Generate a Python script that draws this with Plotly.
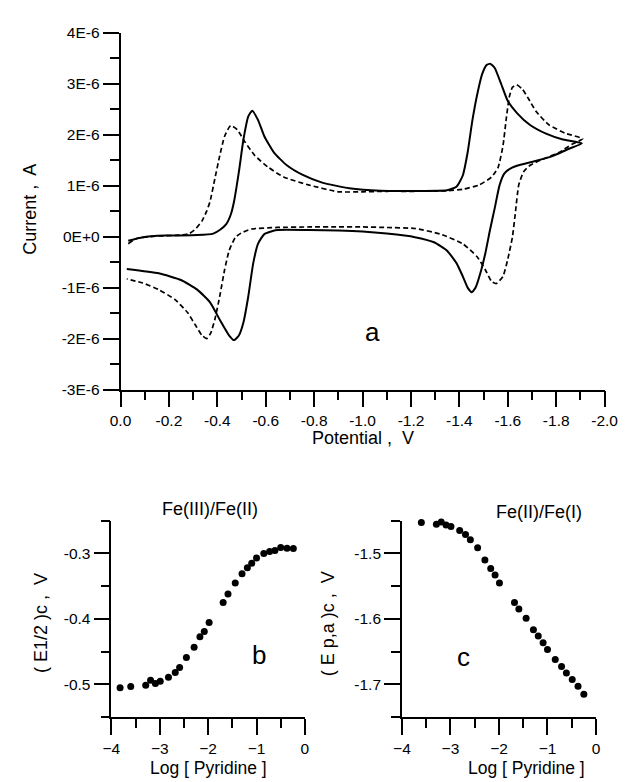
import plotly.graph_objects as go

# ---------------- Panel a: cyclic voltammograms (current in units of 1E-6 A) ----------------
solid_E = [-0.032, -0.092, -0.185, -0.317, -0.383, -0.41, -0.436, -0.456, -0.469, -0.489, -0.508,
           -0.528, -0.544, -0.568, -0.594, -0.634, -0.687, -0.753, -0.833, -0.945, -1.074, -1.216,
           -1.348, -1.388, -1.414, -1.434, -1.454, -1.474, -1.494, -1.513, -1.528, -1.546, -1.573,
           -1.599, -1.639, -1.692, -1.758, -1.824, -1.906,
           -1.85, -1.784, -1.718, -1.652, -1.612, -1.586, -1.566, -1.546, -1.526, -1.507, -1.487,
           -1.467, -1.451, -1.434, -1.414, -1.388, -1.348, -1.295, -1.216, -1.1, -1.0, -0.9, -0.78,
           -0.647, -0.594, -0.568, -0.548, -0.528, -0.508, -0.489, -0.469, -0.449, -0.409, -0.37,
           -0.317, -0.25, -0.158, -0.026]
solid_I = [-0.08, -0.01, 0.02, 0.03, 0.06, 0.13, 0.24, 0.44, 0.69, 1.27, 1.91,
           2.36, 2.47, 2.29, 1.97, 1.65, 1.40, 1.21, 1.06, 0.95, 0.90, 0.896,
           0.91, 0.98, 1.20, 1.65, 2.29, 2.80, 3.19, 3.37, 3.39, 3.31, 2.99,
           2.67, 2.42, 2.19, 2.02, 1.91, 1.83,
           1.72, 1.58, 1.49, 1.41, 1.34, 1.24, 1.01, 0.56, 0.12, -0.33, -0.71,
           -1.00, -1.09, -1.00, -0.78, -0.52, -0.27, -0.11, -0.01, 0.06, 0.10, 0.12, 0.13,
           0.13, 0.05, -0.14, -0.53, -1.17, -1.68, -1.94, -2.03, -1.94, -1.62, -1.29,
           -1.04, -0.85, -0.72, -0.635]

dashed_E = [-0.032, -0.065, -0.145, -0.25, -0.284, -0.31, -0.337, -0.356, -0.37, -0.39, -0.41,
            -0.43, -0.455, -0.482, -0.515, -0.555, -0.608, -0.674, -0.78, -0.9, -1.0, -1.1,
            -1.216, -1.348, -1.414, -1.48, -1.533, -1.56, -1.58, -1.593, -1.606, -1.619, -1.636,
            -1.659, -1.685, -1.718, -1.771, -1.837, -1.909,
            -1.864, -1.811, -1.745, -1.692, -1.665, -1.645, -1.632, -1.619, -1.599, -1.58, -1.553,
            -1.533, -1.507, -1.474, -1.414, -1.322, -1.216, -1.1, -1.0, -0.9, -0.78, -0.647,
            -0.542, -0.502, -0.475, -0.449, -0.43, -0.41, -0.39, -0.372, -0.356, -0.337, -0.31,
            -0.277, -0.224, -0.158, -0.092, -0.026]
dashed_I = [-0.14, -0.04, 0.01, 0.03, 0.06, 0.15, 0.31, 0.50, 0.69, 1.14, 1.59,
            1.97, 2.18, 2.10, 1.85, 1.59, 1.37, 1.17, 1.01, 0.88, 0.88, 0.89,
            0.89, 0.90, 0.93, 1.01, 1.17, 1.36, 1.78, 2.29, 2.74, 2.93, 2.98,
            2.90, 2.71, 2.45, 2.19, 2.03, 1.92,
            1.81, 1.65, 1.52, 1.40, 1.27, 1.01, 0.50, -0.01, -0.46, -0.78, -0.92,
            -0.88, -0.65, -0.40, -0.14, 0.05, 0.16, 0.18, 0.19, 0.19, 0.19, 0.18,
            0.15, 0.08, -0.01, -0.27, -0.65, -1.17, -1.62, -1.90, -2.00, -1.94, -1.74,
            -1.49, -1.23, -1.04, -0.91, -0.83]

a_ytick_vals = [-3e-6, -2e-6, -1e-6, 0, 1e-6, 2e-6, 3e-6, 4e-6]
a_ytick_text = ["-3E-6", "-2E-6", "-1E-6", "0E+0", "1E-6", "2E-6", "3E-6", "4E-6"]
a_xtick_vals = [0.0, -0.2, -0.4, -0.6, -0.8, -1.0, -1.2, -1.4, -1.6, -1.8, -2.0]
a_xtick_text = ["0.0", "-0.2", "-0.4", "-0.6", "-0.8", "-1.0", "-1.2", "-1.4", "-1.6", "-1.8", "-2.0"]

# ---------------- Panel b: Fe(III)/Fe(II) ----------------
b_logpy = [-3.82, -3.60, -3.29, -3.19, -3.09, -2.99, -2.82, -2.68, -2.59, -2.45, -2.29, -2.17, -2.08,
           -1.98, -1.69, -1.59, -1.44, -1.30, -1.19, -1.10, -1.00, -0.85, -0.73, -0.62, -0.50,
           -0.37, -0.24]
b_E12 = [-0.505, -0.503, -0.501, -0.4935, -0.4985, -0.495, -0.489, -0.4816, -0.474, -0.459, -0.443,
         -0.427, -0.419, -0.4055, -0.375, -0.362, -0.345, -0.331, -0.322, -0.315, -0.307, -0.300,
         -0.297, -0.2955, -0.291, -0.292, -0.2925]

# ---------------- Panel c: Fe(II)/Fe(I) ----------------
c_logpy = [-3.81, -3.60, -3.29, -3.19, -3.09, -2.99, -2.81, -2.69, -2.59, -2.44, -2.29, -2.17, -2.08,
           -1.99, -1.68, -1.59, -1.44, -1.29, -1.19, -1.09, -1.00, -0.84, -0.71, -0.61, -0.49,
           -0.37, -0.25]
c_Epa = [-1.449, -1.453, -1.4555, -1.452, -1.4565, -1.459, -1.465, -1.471, -1.479, -1.4915, -1.510,
         -1.523, -1.533, -1.545, -1.575, -1.585, -1.599, -1.6165, -1.626, -1.6365, -1.6465, -1.662,
         -1.6725, -1.6825, -1.6925, -1.7025, -1.715]

FONT = "Liberation Sans, Arial, sans-serif"

fig = go.Figure()
fig.add_trace(go.Scatter(x=solid_E, y=[v * 1e-6 for v in solid_I], mode="lines",
                         line=dict(color="black", width=2, shape="spline", smoothing=0.5),
                         xaxis="x", yaxis="y", showlegend=False))
fig.add_trace(go.Scatter(x=dashed_E, y=[v * 1e-6 for v in dashed_I], mode="lines",
                         line=dict(color="black", width=1.7, dash="5px,3px", shape="spline", smoothing=0.5),
                         xaxis="x", yaxis="y", showlegend=False))
fig.add_trace(go.Scatter(x=b_logpy, y=b_E12, mode="markers",
                         marker=dict(color="black", size=7),
                         xaxis="x2", yaxis="y2", showlegend=False, cliponaxis=False))
fig.add_trace(go.Scatter(x=c_logpy, y=c_Epa, mode="markers",
                         marker=dict(color="black", size=7),
                         xaxis="x3", yaxis="y3", showlegend=False, cliponaxis=False))

axis_common = dict(showline=True, linecolor="black", linewidth=1.6, showgrid=False, zeroline=False,
                   ticks="outside", tickcolor="black", tickwidth=1.6, ticklen=16,
                   tickfont=dict(family=FONT, size=15.5, color="black"))
minor_common = dict(ticks="outside", ticklen=9, tickwidth=1.6, tickcolor="black")

fig.update_layout(
    width=634, height=782, margin=dict(l=0, r=0, t=0, b=0),
    paper_bgcolor="white", plot_bgcolor="white",
    font=dict(family=FONT, color="black"),
    xaxis=dict(domain=[114 / 634, 618 / 634], range=[0.0, -2.0], anchor="y",
               tickvals=a_xtick_vals, ticktext=a_xtick_text,
               minor=dict(dtick=0.1, tick0=0, **minor_common),
               **axis_common),
    yaxis=dict(domain=[1 - 389 / 782, 1 - 24.3 / 782], range=[-3e-6, 4e-6], anchor="x",
               tickvals=a_ytick_vals, ticktext=a_ytick_text,
               minor=dict(dtick=0.5e-6, tick0=0, **minor_common),
               **axis_common),
    xaxis2=dict(domain=[104.5 / 634, 306 / 634], range=[-4, 0], anchor="y2", dtick=1, tick0=0,
                minor=dict(dtick=0.5, tick0=0, **minor_common),
                **axis_common),
    yaxis2=dict(domain=[1 - 724 / 782, 1 - 523 / 782], range=[-0.55, -0.25], anchor="x2",
                tickvals=[-0.5, -0.4, -0.3], ticktext=["-0.5", "-0.4", "-0.3"],
                minor=dict(dtick=0.05, tick0=0, **minor_common),
                **axis_common),
    xaxis3=dict(domain=[407 / 634, 609 / 634], range=[-4, 0], anchor="y3", dtick=1, tick0=0,
                minor=dict(dtick=0.5, tick0=0, **minor_common),
                **axis_common),
    yaxis3=dict(domain=[1 - 724 / 782, 1 - 523 / 782], range=[-1.75, -1.45], anchor="x3",
                tickvals=[-1.7, -1.6, -1.5], ticktext=["-1.7", "-1.6", "-1.5"],
                minor=dict(dtick=0.05, tick0=0, **minor_common),
                **axis_common),
)

ann_font = dict(family=FONT, size=18, color="black")
log_font = dict(family=FONT, size=17.5, color="black")
big_font = dict(family=FONT, size=26, color="black")
annotations = [
    dict(text="Current ,  A", x=19, y=205, textangle=-90, font=ann_font),
    dict(text="Potential ,  V", x=366, y=439, font=ann_font),
    dict(text="a", x=376, y=330, font=big_font),
    dict(text="Fe(III)/Fe(II)", x=207, y=511, font=ann_font),
    dict(text="( E1/2 )c ,  V", x=32, y=628, textangle=-90, font=ann_font),
    dict(text="Log [ Pyridine ]", x=206, y=775.5, font=log_font),
    dict(text="b", x=258, y=660, font=big_font),
    dict(text="Fe(II)/Fe(I)", x=550, y=514, font=ann_font),
    dict(text="( E p,a )c ,  V", x=330, y=628, textangle=-90, font=ann_font),
    dict(text="Log [ Pyridine ]", x=537, y=775.5, font=log_font),
    dict(text="c", x=471, y=662, font=big_font),
]
for a in annotations:
    a["x"] = a["x"] / 634
    a["y"] = 1 - a["y"] / 782
    a.update(xref="paper", yref="paper", showarrow=False, xanchor="center", yanchor="middle")
fig.update_layout(annotations=annotations)

fig.write_html("out.html", config={"displayModeBar": False},
               post_script="document.body.style.margin='0px';document.body.style.overflow='hidden';")
